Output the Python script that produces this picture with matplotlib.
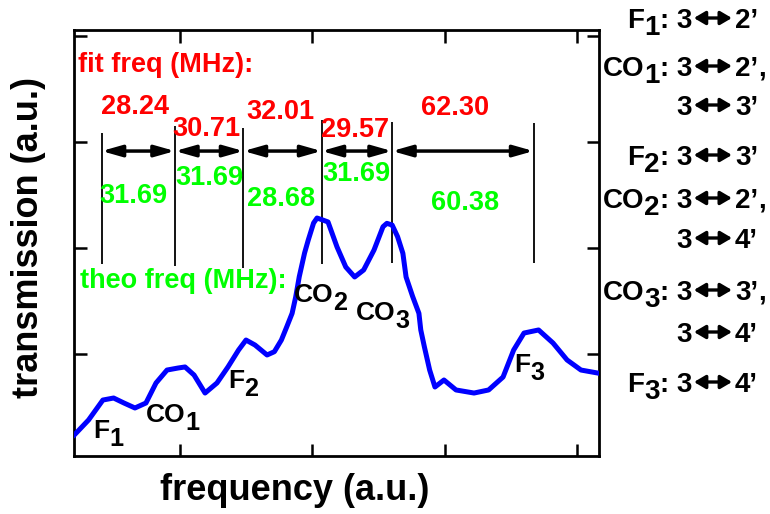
import matplotlib
matplotlib.use('Agg')
import matplotlib.pyplot as plt
import matplotlib.transforms as mtransforms
from matplotlib.patches import FancyArrowPatch

plt.rcParams['font.family'] = ['Liberation Sans', 'DejaVu Sans']
plt.rcParams['font.weight'] = 'bold'

# ---------------- data ----------------
freq = [0.205, 0.313, 0.421, 0.502, 0.580, 0.663, 0.746, 0.822, 0.905, 0.988,
        1.041, 1.109, 1.192, 1.282, 1.365, 1.445, 1.501, 1.569, 1.660, 1.715,
        1.768, 1.809, 1.849, 1.876, 1.903, 1.943, 1.971, 2.011, 2.037, 2.075,
        2.120, 2.188, 2.254, 2.321, 2.389, 2.467, 2.535, 2.564, 2.604, 2.645,
        2.685, 2.709, 2.758, 2.806, 2.820, 2.847, 2.875, 2.887, 2.927, 2.995,
        3.086, 3.222, 3.332, 3.441, 3.521, 3.599, 3.709, 3.818, 3.924, 4.029,
        4.154]
trans = [0.231, 0.373, 0.561, 0.580, 0.533, 0.486, 0.533, 0.722, 0.844, 0.863,
         0.873, 0.797, 0.627, 0.722, 0.873, 1.033, 1.127, 1.080, 0.986, 1.017,
         1.127, 1.253, 1.379, 1.533, 1.725, 1.948, 2.071, 2.231, 2.278, 2.262,
         2.241, 2.005, 1.816, 1.722, 1.788, 1.976, 2.196, 2.228, 2.212, 2.102,
         1.945, 1.722, 1.540, 1.379, 1.222, 1.064, 0.910, 0.844, 0.684, 0.750,
         0.656, 0.627, 0.656, 0.778, 1.033, 1.193, 1.222, 1.099, 0.939, 0.844,
         0.816]

peak_pos = [0.411, 0.965, 1.482, 2.071, 2.603, 3.671]
peak_top = [3.080, 3.146, 3.127, 3.203, 3.184, 3.175]
peak_bottom = [1.844, 1.829, 1.807, 1.844, 1.854, 1.854]
arrow_level = 2.91

fit_freq = ['28.24', '30.71', '32.01', '29.57', '62.30']
theo_freq = ['31.69', '31.69', '28.68', '31.69', '60.38']
fit_title = 'fit freq (MHz):'
theo_title = 'theo freq (MHz):'

peak_names = ['F', 'CO', 'F', 'CO', 'CO', 'F']
peak_subs = ['1', '1', '2', '2', '3', '3']

assign_main = ['F', 'CO', '', 'F', 'CO', '', 'CO', '', 'F']
assign_sub = ['1', '1', '', '2', '2', '', '3', '', '3']
assign_lower = ['3', '3', '3', '3', '3', '3', '3', '3', '3']
assign_upper = ['2\u2019', '2\u2019', '3\u2019', '3\u2019', '2\u2019', '4\u2019',
                '3\u2019', '4\u2019', '4\u2019']
assign_trail = ['', ',', '', '', ',', '', ',', '', '']

x_ticks = [1, 2, 3, 4]
y_ticks = [1, 2, 3, 4]
x_label = 'frequency (a.u.)'
y_label = 'transmission (a.u.)'

# ---------------- label positions (layout) ----------------
fit_xy = [(0.666, 3.321), (1.205, 3.118), (1.764, 3.281), (2.322, 3.108), (3.078, 3.316)]
theo_xy = [(0.652, 2.486), (1.227, 2.660), (1.764, 2.453), (2.331, 2.693), (3.154, 2.420)]
fit_title_xy = (0.233, 3.722)
theo_title_xy = (0.248, 1.684)
name_xy = [(0.346, 0.203), (0.746, 0.354), (1.365, 0.675),
           (1.863, 1.486), (2.331, 1.316), (3.524, 0.825)]
assign_baseline_px = [28, 76, 115, 165, 208, 248, 300, 342, 392]
assign_right_px = 758

W, H = 770, 514
fig = plt.figure(figsize=(W / 100, H / 100), dpi=100)
ax = fig.add_axes([74 / W, 58 / H, 525 / W, 426 / H])

ax.plot(freq, trans, color='#0000FF', lw=3.6, solid_joinstyle='round', zorder=3)

ax.vlines(peak_pos, peak_bottom, peak_top, color='black', lw=1.3, zorder=2)
for a, b in zip(peak_pos[:-1], peak_pos[1:]):
    ax.annotate('', xy=(b, arrow_level), xytext=(a, arrow_level),
                arrowprops=dict(arrowstyle='<|-|>,head_length=0.6,head_width=0.17',
                                color='black', lw=2.5, mutation_scale=20,
                                shrinkA=0, shrinkB=0), zorder=2)

NUM_FS = 19.5
for s, (x, y) in zip(fit_freq, fit_xy):
    ax.text(x, y, s, color='#FF0000', fontsize=NUM_FS, ha='center', va='center', zorder=4)
for s, (x, y) in zip(theo_freq, theo_xy):
    ax.text(x, y, s, color='#00FF00', fontsize=NUM_FS, ha='center', va='center', zorder=4)
ax.text(*fit_title_xy, fit_title, color='#FF0000', fontsize=NUM_FS, ha='left', va='center')
ax.text(*theo_title_xy, theo_title, color='#00FF00', fontsize=NUM_FS, ha='left', va='center')

ax.set_xlim(0.203, 4.165)
ax.set_ylim(0.033, 4.052)
ax.set_xticks(x_ticks)
ax.set_yticks(y_ticks)
ax.tick_params(which='both', direction='in', length=9, width=1.8,
               top=True, right=True, labelbottom=False, labelleft=False)
for sp in ax.spines.values():
    sp.set_linewidth(2.0)

renderer = fig.canvas.get_renderer()


def seq_text(base, x, y, pieces, align='left', color='black'):
    """Place text pieces one after another; a piece whose text is None is a
    drawn double arrow of the given width (pixels)."""
    cursor = 0.0
    placed = []
    for s, size, dy, gap, fam in pieces:
        cursor += gap
        if s is None:
            placed.append((None, cursor, dy, size))
            cursor += size
            continue
        t = fig.text(0, 0, s, fontsize=size, fontweight='bold', family=fam,
                     color=color, ha='left', va='baseline', zorder=5)
        w = t.get_window_extent(renderer).width
        placed.append((t, cursor, dy, w))
        cursor += w
    shift = -cursor if align == 'right' else 0.0
    for t, xo, dy, w in placed:
        if t is None:
            x0, y0 = base.transform((x, y))
            pa = (x0 + xo + shift, y0 + dy)
            pb = (x0 + xo + shift + w, y0 + dy)
            arr = FancyArrowPatch(pa, pb, transform=mtransforms.IdentityTransform(),
                                  arrowstyle='<|-|>,head_length=0.34,head_width=0.2',
                                  mutation_scale=20, lw=2.4, color=color,
                                  shrinkA=0, shrinkB=0)
            fig.add_artist(arr)
            continue
        t.set_transform(mtransforms.offset_copy(base, fig=fig, x=xo + shift, y=dy, units='dots'))
        t.set_position((x, y))
    return cursor


fam_main = ['Liberation Sans', 'DejaVu Sans']
LBL_FS = 19
for nm, sb, (x, y) in zip(peak_names, peak_subs, name_xy):
    seq_text(ax.transData, x, y, [(nm, LBL_FS, 0, 0, fam_main),
                                  (sb, LBL_FS * 0.95, -8, 0, fam_main)])

RP_FS = 20
for mn, sb, lo, up, tr, yb in zip(assign_main, assign_sub, assign_lower, assign_upper,
                                  assign_trail, assign_baseline_px):
    pieces = []
    if mn:
        pieces.append((mn, RP_FS, 0, 0, fam_main))
        pieces.append((sb, RP_FS, -7, 0, fam_main))
        pieces.append((': ' + lo, RP_FS, 0, 0, fam_main))
    else:
        pieces.append((lo, RP_FS, 0, 0, fam_main))
    pieces.append((None, 38, 10, 2, None))
    pieces.append((up, RP_FS, 0, 3, fam_main))
    fx, fy = assign_right_px / W, 1 - yb / H
    seq_text(fig.transFigure, fx, fy, pieces, align='right')
    if tr:
        fig.text(fx, fy, tr, fontsize=RP_FS, fontweight='bold', ha='left', va='baseline')

fig.text(295 / W, 1 - 490 / H, x_label, fontsize=26, ha='center', va='center')
fig.text(29 / W, 1 - 238 / H, y_label, fontsize=26, rotation=90, ha='center', va='center')

fig.savefig('out.png', dpi=100)
